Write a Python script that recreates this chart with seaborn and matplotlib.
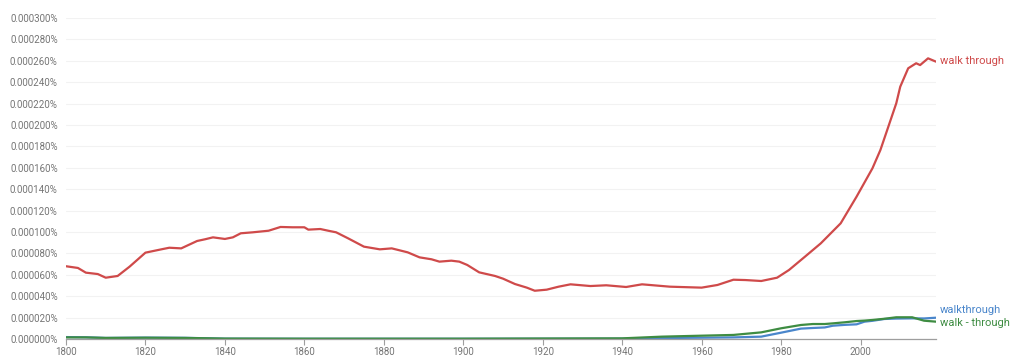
import numpy as np
import pandas as pd
import matplotlib
matplotlib.use("Agg")
import matplotlib.pyplot as plt
import seaborn as sns

# values are in millionths of a percent (100 -> 0.000100%)
red_years = [1800, 1803, 1805, 1808, 1810, 1813, 1816, 1820, 1824, 1826, 1829, 1833,
             1835, 1837, 1840, 1842, 1844, 1847, 1851, 1854, 1857, 1860, 1861, 1864,
             1866, 1868, 1871, 1875, 1879, 1882, 1886, 1889, 1892, 1894, 1897, 1899,
             1901, 1904, 1908, 1910, 1913, 1916, 1918, 1921, 1924, 1927, 1932, 1936,
             1941, 1945, 1952, 1960, 1964, 1968, 1971, 1975, 1979, 1982, 1986, 1990,
             1995, 1999, 2003, 2005, 2007, 2009, 2010, 2012, 2014, 2015, 2017, 2019]
walk_through = [68, 66.4, 62, 60.7, 57.3, 58.9, 67.6, 80.7, 83.8, 85.3, 84.7, 91.6,
                93.2, 95, 93.5, 95, 98.8, 99.7, 101.2, 104.7, 104.4, 104.4, 102.2, 102.8,
                101.2, 99.7, 94.1, 86.3, 83.8, 84.7, 81, 76.3, 74.5, 72.3, 73.2, 72.3,
                69.2, 62.3, 58.9, 56.4, 51.4, 48, 45.1, 46.1, 48.9, 51.1, 49.5, 50.2,
                48.6, 51.1, 48.9, 48, 50.5, 55.4, 55.1, 54.2, 57.3, 64.5, 76.9, 89.4,
                108.1, 133, 159.5, 176.6, 198.4, 220.3, 235.8, 253, 257.7, 256, 262.3, 259.2]

low_years = [1800, 1805, 1810, 1820, 1830, 1840, 1860, 1900, 1940, 1950, 1960, 1968,
             1975, 1980, 1985, 1988, 1991, 1993, 1996, 1999, 2001, 2003, 2006, 2009,
             2013, 2016, 2019]
walkthrough = [1.8, 1.6, 1.0, 1.3, 1.1, 0.3, 0.2, 0.2, 0.3, 0.9, 1.2, 1.5,
               2.2, 5.9, 9.7, 10.3, 10.8, 12.4, 13.2, 13.7, 16.2, 17.0, 18.7, 19.1,
               19.3, 19.2, 19.9]
walk_dash_through = [1.5, 1.5, 1.0, 1.2, 1.0, 0.4, 0.3, 0.3, 0.6, 2.2, 3.1, 3.8,
                     6.2, 10.0, 13.1, 14.0, 14.0, 14.6, 15.6, 16.8, 17.2, 17.8, 18.9, 20.3,
                     20.3, 17.1, 16.2]

labels = ["walk through", "walkthrough", "walk - through"]
colors = ["#cf4a4a", "#4a86cb", "#3e8c42"]

df = pd.concat([
    pd.DataFrame({"year": red_years, "value": walk_through, "ngram": labels[0]}),
    pd.DataFrame({"year": low_years, "value": walkthrough, "ngram": labels[1]}),
    pd.DataFrame({"year": low_years, "value": walk_dash_through, "ngram": labels[2]}),
])

sns.set_style("white")
plt.rcParams["font.family"] = ["Roboto", "DejaVu Sans"]

fig = plt.figure(figsize=(10.24, 3.63), dpi=100)
ax = fig.add_axes([66 / 1024, 24 / 363, 870 / 1024, 321 / 363])

sns.lineplot(data=df, x="year", y="value", hue="ngram", hue_order=labels,
             palette=colors, linewidth=1.6, legend=False, ax=ax)

ax.set_xlim(1800, 2019)
ax.set_ylim(0, 300)
ax.set_xticks(np.arange(1800, 2001, 20))
yt = np.arange(0, 301, 20)
ax.set_yticks(yt)
ax.set_yticklabels([f"{v * 1e-6:.6f}%" for v in yt])
ax.set_xlabel("")
ax.set_ylabel("")
ax.grid(axis="y", color="#f2f2f2", linewidth=0.8)
for s in ["top", "right", "left"]:
    ax.spines[s].set_visible(False)
ax.spines["bottom"].set_color("#9e9e9e")
ax.spines["bottom"].set_linewidth(0.9)
ax.tick_params(axis="y", length=4, width=0.8, color="#9e9e9e", labelsize=7,
               labelcolor="#757575", pad=2)
ax.tick_params(axis="x", length=4, width=0.8, color="#9e9e9e", labelsize=7,
               labelcolor="#757575", pad=2, bottom=True)

# series labels at the right end
ends = [(labels[0], walk_through[-1] + 1, colors[0]),
        (labels[1], 27, colors[1]),
        (labels[2], 15, colors[2])]
for name, yv, c in ends:
    ax.annotate(name, xy=(2019, yv), xytext=(3, 0), textcoords="offset points",
                ha="left", va="center", fontsize=8, color=c, annotation_clip=False)

fig.savefig("out.png", dpi=100, facecolor="white")
